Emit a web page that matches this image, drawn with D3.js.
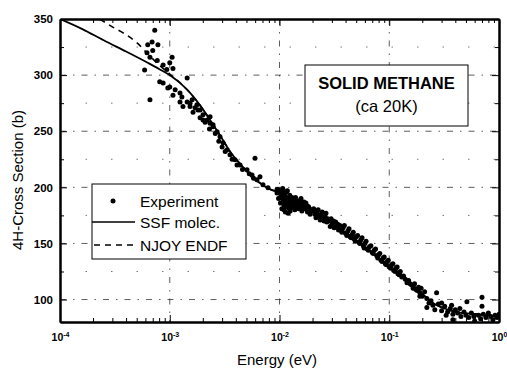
<!DOCTYPE html>
<html lang="en">
<head>
<meta charset="UTF-8">
<title>Solid methane cross section</title>
<style>
  body { margin: 0; background: #fff; }
  svg { display: block; font-family: 'Liberation Sans', Arial, sans-serif; }
  .axis path, .axis line { stroke: #000; }
  .axis path { stroke-width: 2px; }
  .grid line { stroke: #333; stroke-width: 0.8px; stroke-dasharray: 6,7,1.5,7; }
  .minor-grid line { stroke: #555; stroke-width: 0.8px; stroke-dasharray: 1.5,24; }
</style>
<script src="https://d3js.org/d3.v7.min.js"></script>
</head>
<body>
<svg width="507" height="370"></svg>
<script>
// SSF molecular model (solid line)
const ssfEnergy = [1e-4, 1.6e-4, 2.5e-4, 4e-4, 6.3e-4, 8e-4, 1e-3, 1.44e-3, 1.89e-3, 2.48e-3, 3.06e-3, 3.54e-3, 4.37e-3,
  5.06e-3, 5.6e-3, 6.6e-3, 7.9e-3, 9.5e-3, 1.08e-2, 1.26e-2, 1.6e-2, 2.5e-2, 3.2e-2, 4e-2, 5e-2, 6.3e-2, 8e-2,
  0.1, 0.126, 0.16, 0.2, 0.25, 0.32, 0.4, 0.63, 1];
const ssfSigma = [350, 341, 331, 321, 311, 305.5, 300, 287, 273, 256, 242, 232, 221,
  214, 209, 204, 199, 196, 194, 189, 183, 173, 166, 160, 153, 145, 137,
  130, 123, 114, 105, 97, 92, 89, 87, 85];

// NJOY / ENDF (dashed line)
const njoyEnergy = [2.3e-4, 3e-4, 4e-4, 5e-4, 6.3e-4, 8e-4, 1e-3, 1.44e-3, 1.89e-3, 2.48e-3, 3.06e-3, 3.54e-3, 4.37e-3,
  5.06e-3, 5.6e-3, 6.6e-3, 7.9e-3, 9.5e-3, 1.08e-2, 1.26e-2, 1.6e-2, 2.5e-2, 3.2e-2, 4e-2, 5e-2, 6.3e-2, 8e-2,
  0.1, 0.126, 0.16, 0.2, 0.25, 0.32, 0.4, 0.63, 1];
const njoySigma = [350, 343, 336, 329, 319, 309, 301, 287, 273, 256, 242, 232, 221,
  214, 209, 204, 199, 196, 194, 189, 183, 173, 166, 160, 153, 145, 137,
  130, 123, 114, 105, 97, 92, 89, 87, 85];

// measured points [energy eV, cross section b]
const expPoints = [
  [7.3e-4, 340], [6.9e-4, 329.5], [6.3e-4, 327], [7.8e-4, 327], [7.0e-4, 322], [6.2e-4, 320], [6.6e-4, 316],
  [7.7e-4, 313], [1.05e-3, 316], [1.0e-3, 311], [8.7e-4, 309], [5.9e-4, 304.6], [9.4e-4, 305], [1.07e-3, 306],
  [1.44e-3, 297.5], [8.1e-4, 294], [8.7e-4, 293], [1.0e-3, 289.5], [9.6e-4, 288.6], [1.12e-3, 287], [1.07e-3, 282],
  [1.24e-3, 284], [6.6e-4, 278], [1.29e-3, 280.6], [1.24e-3, 276], [1.44e-3, 276], [1.53e-3, 275], [1.32e-3, 272],
  [1.77e-3, 273.5], [1.81e-3, 269], [1.63e-3, 267], [2.01e-3, 264.6], [1.89e-3, 262], [2.19e-3, 260], [2.33e-3, 257],
  [2.48e-3, 254], [1.53e-3, 272], [1.89e-3, 269], [2.01e-3, 260], [2.33e-3, 263], [2.48e-3, 255.7], [2.70e-3, 249.5],
  [2.87e-3, 245], [3.06e-3, 239.7], [3.33e-3, 233.5], [3.54e-3, 229], [3.93e-3, 224.6], [4.37e-3, 220],
  [5.06e-3, 215.7], [5.62e-3, 211], [6.24e-3, 206.8], [6.64e-3, 209.5], [7.07e-3, 202.4], [7.86e-3, 199.6],
  [9.49e-3, 198], [1.08e-2, 196], [5.98e-3, 226], [1.6e-3, 278], [1.7e-3, 271], [2.1e-3, 258], [2.3e-3, 252],
  [2.6e-3, 248], [2.8e-3, 241], [3.0e-3, 236], [3.2e-3, 232], [3.7e-3, 225], [4.1e-3, 220], [4.6e-3, 216],
  [5.3e-3, 212], [5.8e-3, 208],
  [9.5e-3, 195], [9.8e-3, 190], [1.0e-2, 197], [1.02e-2, 186], [1.04e-2, 193], [1.05e-2, 181], [1.07e-2, 199],
  [1.08e-2, 189], [1.1e-2, 184], [1.12e-2, 194], [1.13e-2, 178], [1.15e-2, 191], [1.17e-2, 186], [1.18e-2, 197],
  [1.2e-2, 182], [1.22e-2, 189], [1.24e-2, 193], [1.25e-2, 179], [1.27e-2, 185], [1.3e-2, 191], [1.32e-2, 182],
  [1.35e-2, 187], [1.38e-2, 180], [1.4e-2, 191], [1.43e-2, 184], [1.46e-2, 188], [1.5e-2, 181], [1.53e-2, 186],
  [1.57e-2, 190], [1.6e-2, 179], [1.63e-2, 184], [1.67e-2, 187], [1.72e-2, 181], [1.76e-2, 184], [1.8e-2, 178],
  [1.85e-2, 182], [1.9e-2, 176], [1.95e-2, 180],
  [9.7e-3, 198], [1.01e-2, 191], [1.06e-2, 195], [1.09e-2, 192], [1.11e-2, 188], [1.14e-2, 183], [1.16e-2, 196],
  [1.19e-2, 190], [1.21e-2, 185], [1.23e-2, 181], [1.26e-2, 190], [1.29e-2, 188], [1.31e-2, 186], [1.34e-2, 183],
  [1.37e-2, 189], [1.41e-2, 186], [1.45e-2, 182], [1.48e-2, 185], [1.52e-2, 183], [1.55e-2, 188], [1.59e-2, 185],
  [1.65e-2, 181], [1.7e-2, 184], [1.74e-2, 186], [1.78e-2, 180], [1.83e-2, 183], [1.1e-2, 180], [1.2e-2, 177],
  [2.0e-2, 179], [2.1e-2, 176], [2.2e-2, 178], [2.3e-2, 174], [2.4e-2, 176], [2.5e-2, 172], [2.6e-2, 174],
  [2.7e-2, 169], [2.8e-2, 171], [3.0e-2, 167], [3.1e-2, 170], [3.3e-2, 165], [3.4e-2, 167], [3.6e-2, 162],
  [3.8e-2, 164], [4.0e-2, 159], [4.2e-2, 161], [4.4e-2, 156], [4.6e-2, 158], [4.8e-2, 154], [5.0e-2, 156],
  [5.3e-2, 151], [5.5e-2, 153], [5.8e-2, 148], [6.0e-2, 150], [6.3e-2, 145], [6.6e-2, 147], [7.0e-2, 142],
  [7.3e-2, 144], [7.7e-2, 139], [8.0e-2, 140], [8.4e-2, 135], [8.8e-2, 137], [9.2e-2, 132], [9.6e-2, 134],
  [2.05e-2, 181], [2.15e-2, 173], [2.25e-2, 180], [2.35e-2, 171], [2.45e-2, 178], [2.55e-2, 170], [2.65e-2, 177],
  [2.75e-2, 172], [2.9e-2, 165], [2.95e-2, 172], [3.15e-2, 164], [3.25e-2, 169], [3.45e-2, 162], [3.55e-2, 166],
  [3.7e-2, 160], [3.9e-2, 166], [4.1e-2, 157], [4.3e-2, 163], [4.5e-2, 155], [4.7e-2, 160], [4.9e-2, 152],
  [5.15e-2, 157], [5.4e-2, 150], [5.65e-2, 155], [5.9e-2, 146], [6.15e-2, 152], [6.45e-2, 144], [6.8e-2, 148],
  [7.15e-2, 141], [7.5e-2, 145], [7.85e-2, 137], [8.2e-2, 141], [8.6e-2, 134], [9.0e-2, 138], [9.4e-2, 131],
  [9.8e-2, 135], [0.103, 128], [0.108, 132], [0.113, 125], [0.118, 129], [0.123, 122], [0.135, 121], [0.155, 114],
  [0.175, 109], [0.185, 111],
  [0.100, 129], [0.105, 131], [0.110, 126], [0.115, 128], [0.120, 123], [0.126, 125], [0.130, 120], [0.140, 118],
  [0.145, 115], [0.150, 117], [0.160, 113], [0.165, 110], [0.170, 114], [0.180, 108], [0.190, 106], [0.195, 110],
  [0.190, 103], [0.200, 103], [0.210, 107], [0.220, 101], [0.230, 97], [0.270, 106], [0.240, 99], [0.250, 95],
  [0.220, 93], [0.260, 91], [0.280, 96], [0.300, 90], [0.320, 94], [0.340, 89], [0.360, 92], [0.380, 87],
  [0.400, 91], [0.380, 82], [0.420, 88], [0.450, 85], [0.480, 89], [0.500, 86], [0.530, 84], [0.560, 88],
  [0.590, 85], [0.510, 98], [0.700, 94], [0.700, 102], [0.650, 86], [0.680, 83], [0.720, 87], [0.760, 84],
  [0.800, 88], [0.840, 85], [0.880, 82], [0.920, 86], [0.960, 84], [1.0, 87], [0.300, 97], [0.330, 86],
  [0.370, 95], [0.440, 92], [0.600, 81]
];

const xMajorTicks = [1e-4, 1e-3, 1e-2, 1e-1, 1];
const xTickExponents = ["-4", "-3", "-2", "-1", "0"];
const yMajorTicks = [100, 150, 200, 250, 300, 350];
const yMinorTicks = [125, 175, 225, 275, 325];
const legendLabels = ["Experiment", "SSF molec.", "NJOY ENDF"];
const boxTitle = ["SOLID METHANE", "(ca 20K)"];

const svg = d3.select("svg");
const pLeft = 60, pRight = 499, pTop = 19, pBottom = 322;

const x = d3.scaleLog().domain([1e-4, 1]).range([pLeft, pRight]);
const y = d3.scaleLinear().domain([80, 350]).range([pBottom, pTop]);

svg.append("defs").append("clipPath").attr("id", "plot")
  .append("rect").attr("x", pLeft).attr("y", pTop).attr("width", pRight - pLeft).attr("height", pBottom - pTop);

// grid
svg.append("g").attr("class", "minor-grid")
  .selectAll("line").data(yMinorTicks).join("line")
  .attr("x1", pLeft).attr("x2", pRight).attr("y1", d => y(d)).attr("y2", d => y(d));

const grid = svg.append("g").attr("class", "grid");
grid.selectAll(".gx").data(xMajorTicks.slice(1, -1)).join("line").attr("class", "gx")
  .attr("x1", d => x(d)).attr("x2", d => x(d)).attr("y1", pTop).attr("y2", pBottom);
grid.selectAll(".gy").data(yMajorTicks.slice(0, -1)).join("line").attr("class", "gy")
  .attr("x1", pLeft).attr("x2", pRight).attr("y1", d => y(d)).attr("y2", d => y(d));

// curves
const plot = svg.append("g").attr("clip-path", "url(#plot)");
const line = d3.line().x(d => x(d[0])).y(d => y(d[1])).curve(d3.curveMonotoneX);

plot.append("path")
  .datum(njoyEnergy.map((e, i) => [e, njoySigma[i]]))
  .attr("d", line).attr("fill", "none").attr("stroke", "#000")
  .attr("stroke-width", 1.6).attr("stroke-dasharray", "6,5");

plot.append("path")
  .datum(ssfEnergy.map((e, i) => [e, ssfSigma[i]]))
  .attr("d", line).attr("fill", "none").attr("stroke", "#000").attr("stroke-width", 1.8);

plot.append("g").selectAll("circle").data(expPoints).join("circle")
  .attr("cx", d => x(d[0])).attr("cy", d => y(d[1])).attr("r", 2.5).attr("fill", "#000");

// axes
const xMinor = x.ticks().filter(t => !xMajorTicks.includes(t));

svg.append("g").attr("class", "axis").attr("transform", `translate(0,${pBottom})`)
  .call(d3.axisBottom(x).tickValues(xMinor).tickSizeInner(-4).tickSizeOuter(0).tickFormat(""));
const xAxis = svg.append("g").attr("class", "axis").attr("transform", `translate(0,${pBottom})`)
  .call(d3.axisBottom(x).tickValues(xMajorTicks).tickSizeInner(-7).tickSizeOuter(0).tickPadding(12));
xAxis.selectAll(".tick text").each(function(d, i) {
  const t = d3.select(this).text(null)
    .attr("font-size", 10.5).attr("font-weight", "bold").attr("fill", "#000");
  t.append("tspan").text("10");
  t.append("tspan").attr("dy", -4).attr("font-size", 7).text(xTickExponents[i]);
});

svg.append("g").attr("class", "axis").attr("transform", `translate(0,${pTop})`)
  .call(d3.axisTop(x).tickValues(xMinor).tickSizeInner(-4).tickSizeOuter(0).tickFormat(""));
svg.append("g").attr("class", "axis").attr("transform", `translate(0,${pTop})`)
  .call(d3.axisTop(x).tickValues(xMajorTicks).tickSizeInner(-7).tickSizeOuter(0).tickFormat(""));

svg.append("g").attr("class", "axis").attr("transform", `translate(${pLeft},0)`)
  .call(d3.axisLeft(y).tickValues(yMinorTicks).tickSizeInner(-4).tickSizeOuter(0).tickFormat(""));
svg.append("g").attr("class", "axis").attr("transform", `translate(${pLeft},0)`)
  .call(d3.axisLeft(y).tickValues(yMajorTicks).tickSizeInner(-7).tickSizeOuter(0).tickPadding(7))
  .selectAll(".tick text").attr("font-size", 11.5).attr("font-weight", "bold").attr("fill", "#000");

svg.append("g").attr("class", "axis").attr("transform", `translate(${pRight},0)`)
  .call(d3.axisRight(y).tickValues(yMinorTicks).tickSizeInner(-4).tickSizeOuter(0).tickFormat(""));
svg.append("g").attr("class", "axis").attr("transform", `translate(${pRight},0)`)
  .call(d3.axisRight(y).tickValues(yMajorTicks).tickSizeInner(-7).tickSizeOuter(0).tickFormat(""));

// axis titles
svg.append("text").attr("x", 277).attr("y", 365).attr("text-anchor", "middle")
  .attr("font-size", 15).text("Energy (eV)");
svg.append("text").attr("transform", "translate(23,180) rotate(-90)").attr("text-anchor", "middle")
  .attr("font-size", 15).text("4H-Cross Section (b)");

// legend
const legend = svg.append("g");
legend.append("rect").attr("x", 92).attr("y", 184).attr("width", 154).attr("height", 75)
  .attr("fill", "#fff").attr("stroke", "#000").attr("stroke-width", 1);
const rowY = [201, 222, 245];
legend.append("circle").attr("cx", 113).attr("cy", rowY[0]).attr("r", 2.5).attr("fill", "#000");
legend.append("line").attr("x1", 92).attr("x2", 135).attr("y1", rowY[1]).attr("y2", rowY[1])
  .attr("stroke", "#000").attr("stroke-width", 1.6);
legend.append("line").attr("x1", 94).attr("x2", 135).attr("y1", rowY[2]).attr("y2", rowY[2])
  .attr("stroke", "#000").attr("stroke-width", 1.6).attr("stroke-dasharray", "6,5");
legend.selectAll("text").data(legendLabels).join("text")
  .attr("x", 140).attr("y", (d, i) => rowY[i] + 5.5).attr("font-size", 15.5).text(d => d);

// title box
const tb = svg.append("g");
tb.append("rect").attr("x", 305).attr("y", 65).attr("width", 163).attr("height", 61)
  .attr("fill", "#fff").attr("stroke", "#000").attr("stroke-width", 1);
tb.append("text").attr("x", 386.5).attr("y", 89).attr("text-anchor", "middle")
  .attr("font-size", 16.5).attr("font-weight", "bold").text(boxTitle[0]);
tb.append("text").attr("x", 386.5).attr("y", 112).attr("text-anchor", "middle")
  .attr("font-size", 16.5).text(boxTitle[1]);
</script>
</body>
</html>
